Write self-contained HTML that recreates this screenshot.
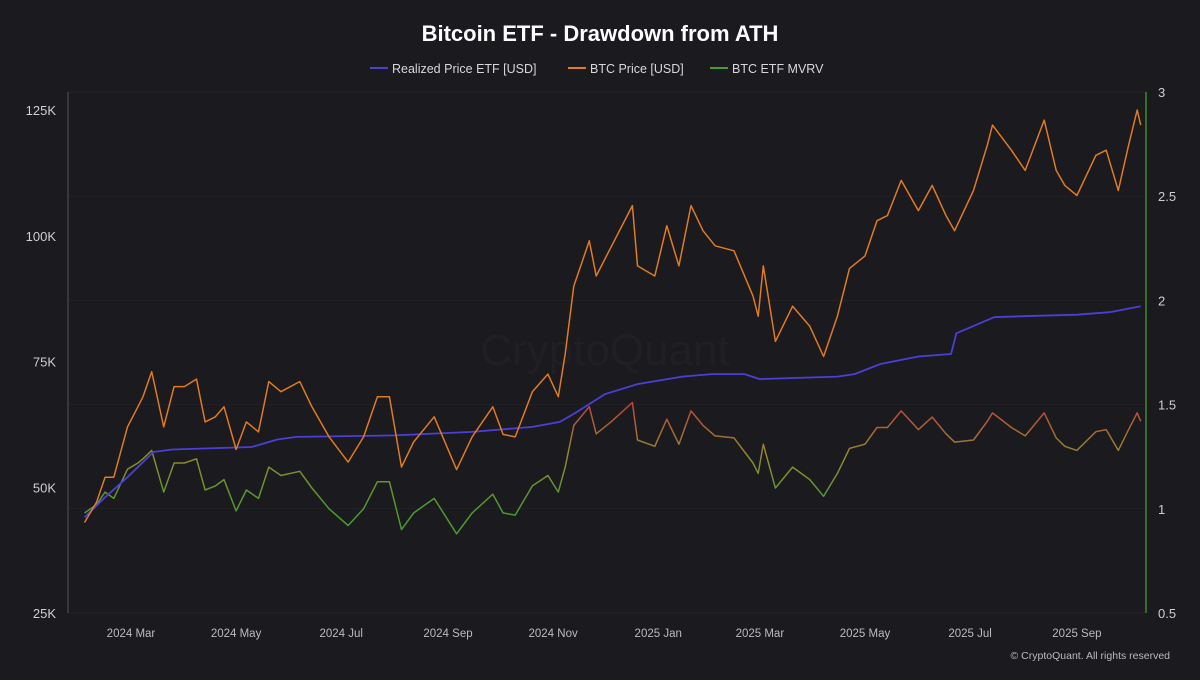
<!DOCTYPE html>
<html><head><meta charset="utf-8"><style>
html,body{margin:0;padding:0;background:#1a1a1f;}
body{width:1200px;height:675px;overflow:hidden;font-family:"Liberation Sans",sans-serif;}
</style></head><body>
<svg id="chart" width="1200" height="675" xmlns="http://www.w3.org/2000/svg">
<defs>
<linearGradient id="mvrvGrad" gradientUnits="userSpaceOnUse" x1="0" y1="404" x2="0" y2="508">
<stop offset="0" stop-color="#c2443c"/><stop offset="0.5" stop-color="#8e8a30"/><stop offset="1" stop-color="#4c9a2e"/>
</linearGradient>
</defs>
<rect width="1200" height="675" fill="#1a1a1f"/>
<text x="600" y="41" fill="#ffffff" font-size="22" font-weight="bold" text-anchor="middle">Bitcoin ETF - Drawdown from ATH</text>
<g font-size="12.5" fill="#d8d8d8">
<g><line x1="370" y1="68" x2="388" y2="68" stroke="#4b3fd6" stroke-width="2"/><text x="392" y="73">Realized Price ETF [USD]</text></g>
<g><line x1="568" y1="68" x2="586" y2="68" stroke="#e07b20" stroke-width="2"/><text x="590" y="73">BTC Price [USD]</text></g>
<g><line x1="710" y1="68" x2="728" y2="68" stroke="#4c9a2e" stroke-width="2"/><text x="732" y="73">BTC ETF MVRV</text></g>
</g>
<text x="605" y="365" fill="#ffffff" fill-opacity="0.022" font-size="44" text-anchor="middle">CryptoQuant</text>
<g id="grid"></g>
<line x1="68" y1="92" x2="68" y2="613" stroke="#555" stroke-width="1"/>
<line x1="1146" y1="92" x2="1146" y2="613" stroke="#3c8a2a" stroke-width="1.5"/>
<g id="axes" font-size="13" fill="#cfcfcf"></g>
<g id="series"></g>
<text x="1170" y="659" fill="#bbbbbb" font-size="10.5" text-anchor="end">© CryptoQuant. All rights reserved</text>
</svg>
<script>
const btcDates=["2024-02-03","2024-02-10","2024-02-15","2024-02-20","2024-02-28","2024-03-05","2024-03-08","2024-03-13","2024-03-20","2024-03-26","2024-04-01","2024-04-08","2024-04-13","2024-04-19","2024-04-24","2024-05-01","2024-05-07","2024-05-14","2024-05-20","2024-05-27","2024-06-07","2024-06-14","2024-06-24","2024-07-05","2024-07-14","2024-07-22","2024-07-29","2024-08-05","2024-08-12","2024-08-24","2024-09-06","2024-09-15","2024-09-27","2024-10-03","2024-10-10","2024-10-20","2024-10-29","2024-11-04","2024-11-08","2024-11-13","2024-11-22","2024-11-26","2024-12-05","2024-12-17","2024-12-20","2024-12-30","2025-01-06","2025-01-13","2025-01-20","2025-01-27","2025-02-03","2025-02-14","2025-02-25","2025-02-28","2025-03-03","2025-03-10","2025-03-20","2025-03-30","2025-04-07","2025-04-15","2025-04-22","2025-05-01","2025-05-08","2025-05-14","2025-05-22","2025-06-01","2025-06-09","2025-06-17","2025-06-22","2025-07-03","2025-07-11","2025-07-14","2025-07-25","2025-08-02","2025-08-13","2025-08-20","2025-08-25","2025-09-01","2025-09-12","2025-09-18","2025-09-25","2025-10-01","2025-10-06","2025-10-08"];
const btcPrice=[43,47,52,52,62,66,68,73,62,70,70,71.5,63,64,66,57.5,63,61,71,69,71,66,60,55,60,68,68,54,59,64,53.5,60,66,60.5,60,69,72.5,68,76.5,90,99,92,98,106,94,92,102,94,106,101,98,97,88,84,94,79,86,82,76,84,93.5,96,103,104,111,105,110,104,101,109,118,122,117,113,123,113,110,108,116,117,109,118,125,122];
const mvrv=[0.98,1.02,1.08,1.05,1.19,1.22,1.24,1.28,1.08,1.22,1.22,1.24,1.09,1.11,1.14,0.99,1.09,1.05,1.2,1.16,1.18,1.1,1.0,0.92,1.0,1.13,1.13,0.9,0.98,1.05,0.88,0.98,1.07,0.98,0.97,1.11,1.16,1.08,1.2,1.4,1.49,1.36,1.42,1.51,1.33,1.3,1.43,1.31,1.47,1.4,1.35,1.34,1.22,1.17,1.31,1.1,1.2,1.14,1.06,1.17,1.29,1.31,1.39,1.39,1.47,1.38,1.44,1.36,1.32,1.33,1.42,1.46,1.39,1.35,1.46,1.34,1.3,1.28,1.37,1.38,1.28,1.38,1.46,1.42];
const realDates=["2024-02-03","2024-02-15","2024-02-28","2024-03-14","2024-03-25","2024-05-10","2024-05-25","2024-06-05","2024-08-01","2024-09-15","2024-10-20","2024-11-05","2024-11-15","2024-12-01","2024-12-20","2025-01-15","2025-02-01","2025-02-20","2025-03-01","2025-04-15","2025-04-25","2025-05-10","2025-06-01","2025-06-20","2025-06-23","2025-07-15","2025-08-01","2025-09-01","2025-09-20","2025-10-08"];
const realPrice=[44,48,52,57,57.5,58,59.5,60,60.3,61,62,63,65,68.5,70.5,72,72.5,72.5,71.5,72,72.5,74.5,76,76.5,80.6,83.8,84,84.3,84.8,86];
const leftTicks=[25,50,75,100,125];
const rightTicks=[0.5,1,1.5,2,2.5,3];
const xTickDates=["2024-03-01","2024-05-01","2024-07-01","2024-09-01","2024-11-01","2025-01-01","2025-03-01","2025-05-01","2025-07-01","2025-09-01"];
const xTickLabels=["2024 Mar","2024 May","2024 Jul","2024 Sep","2024 Nov","2025 Jan","2025 Mar","2025 May","2025 Jul","2025 Sep"];

const NS="http://www.w3.org/2000/svg";
const day0=Date.UTC(2024,0,1);
function dayOf(s){const p=s.split('-');return (Date.UTC(+p[0],+p[1]-1,+p[2])-day0)/86400000;}
function xScale(s){return 27.6+dayOf(s)*1.723;}
function yLeft(v){return 613-(v-25)*(503/100);}
function yRight(v){return 613-(v-0.5)*(521/2.5);}
function mk(tag,attrs,parent){const e=document.createElementNS(NS,tag);for(const k in attrs)e.setAttribute(k,attrs[k]);parent.appendChild(e);return e;}
const grid=document.getElementById('grid'),axes=document.getElementById('axes'),series=document.getElementById('series');
rightTicks.forEach(v=>{
  const l=mk('line',{x1:68,x2:1146,y1:yRight(v),y2:yRight(v),stroke:'#222227','stroke-width':1},grid);
  
  
  const t=mk('text',{x:1158,y:yRight(v)+5},axes);t.textContent=v;
  
  
});
leftTicks.forEach(v=>{
  const t=mk('text',{x:56,y:yLeft(v)+5,'text-anchor':'end'},axes);t.textContent=v+'K';
  
  
});
xTickDates.forEach((d,i)=>{
  const t=mk('text',{x:xScale(d),y:637,'text-anchor':'middle','font-size':11.5,fill:'#bbbbbb'},axes);t.textContent=xTickLabels[i];
  
  
});
function path(dates,vals,yf){return dates.map((d,i)=>(i?'L':'M')+xScale(d).toFixed(1)+' '+yf(vals[i]).toFixed(1)).join(' ');}
const pm=mk('path',{d:path(btcDates,mvrv,yRight),fill:'none',stroke:'url(#mvrvGrad)','stroke-width':1.5,'stroke-linejoin':'round'},series);


const pr=mk('path',{d:path(realDates,realPrice,yLeft),fill:'none',stroke:'#4b3fd6','stroke-width':1.8,'stroke-linejoin':'round'},series);


const pb=mk('path',{d:path(btcDates,btcPrice,yLeft),fill:'none',stroke:'#e07b20','stroke-width':1.5,'stroke-linejoin':'round'},series);


</script>
</body></html>
